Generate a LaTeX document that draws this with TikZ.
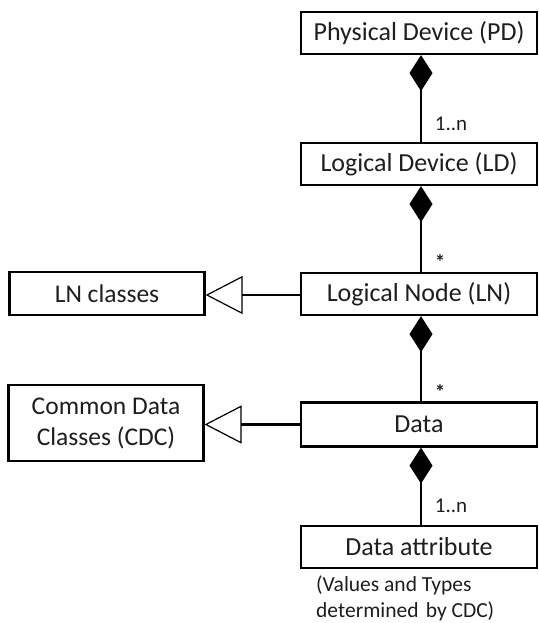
\documentclass[tikz,border=0pt]{standalone}
\usepackage{fontspec}
\setmainfont{Carlito}
\usetikzlibrary{arrows.meta}
\definecolor{txt}{HTML}{1E1E1E}
\tikzset{
  box/.style={draw=black, line width=2.2pt, fill=white, minimum width=235.5pt, minimum height=42pt, inner sep=0pt, text=txt, font=\fontsize{26}{30}\selectfont},
  sidebox/.style={draw=black, line width=2.2pt, fill=white, minimum width=195pt, inner sep=0pt, text=txt, align=center, font=\fontsize{25.5}{31}\selectfont},
  comp/.style={line width=2.2pt, -{Diamond[length=36pt, width=23pt]}},
  gen/.style={line width=2.2pt, -{Triangle[open, length=37pt, width=38pt, line width=1.2pt, fill=white]}},
  mult/.style={text=txt, inner sep=0pt, font=\fontsize{21}{25}\selectfont},
  note/.style={text=txt, inner sep=0pt, align=left, font=\fontsize{21.5}{26}\selectfont}
}
\begin{document}
\begin{tikzpicture}[x=1pt, y=-1pt]
\useasboundingbox (0,0) rectangle (538,623);
\node[box] (PD) at (419,33) {Physical Device (PD)};
\node[box] (LD) at (419,164) {Logical Device (LD)};
\node[box] (LN) at (419,294) {Logical Node (LN)};
\node[box, minimum height=44pt] (DT) at (419,424.5) {Data};
\node[box] (DA) at (419,547) {Data attribute};
\node[sidebox, minimum height=43pt] (LNC) at (107,293.5) {LN classes};
\node[sidebox, minimum height=76pt] (CDC) at (106,423) {Common Data\\Classes (CDC)};
\node[note, anchor=north west] (NT) at (316,576) {(Values and Types\\determined\,\,by CDC)};

\draw[comp] ([xshift=2pt]LD.north) -- ([xshift=2pt]PD.south);
\draw[comp] ([xshift=2pt]LN.north) -- ([xshift=2pt]LD.south);
\draw[comp] ([xshift=2pt]DT.north) -- ([xshift=2pt]LN.south);
\draw[comp] ([xshift=2pt]DA.north) -- ([xshift=2pt]DT.south);
\draw[gen] ([yshift=-1pt]LN.west) -- ([yshift=-1pt]LN.west -| LNC.east);
\draw[gen] (DT.west) -- (DT.west -| CDC.east);

\node[mult] (m1) at (451,124) {1..n};
\node[mult, font=\bfseries\fontsize{21}{25}\selectfont] (m2) at (440,262) {*};
\node[mult, font=\bfseries\fontsize{21}{25}\selectfont] (m3) at (440,392) {*};
\node[mult] (m4) at (451,506) {1..n};
\end{tikzpicture}
\end{document}
